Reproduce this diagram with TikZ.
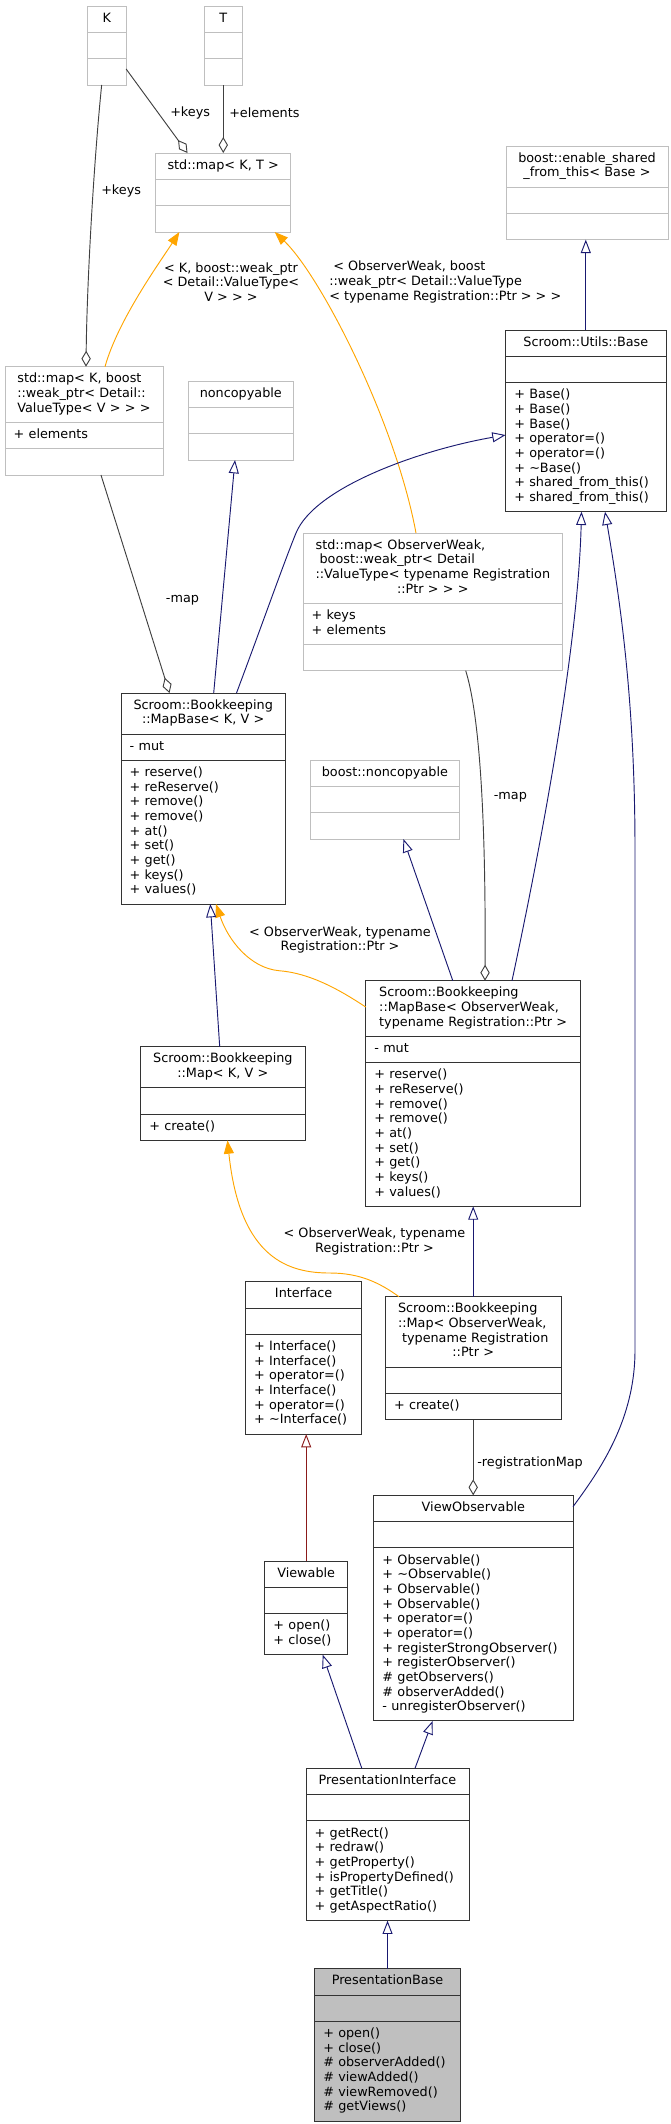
\documentclass[tikz,border=0pt]{standalone}
\usepackage{fontspec}
\setmainfont{DejaVu Sans}
\usepackage{tikz}
\usetikzlibrary{arrows.meta, positioning, calc, shapes.multipart}
\definecolor{inhblue}{RGB}{25,25,112}
\definecolor{privred}{RGB}{139,26,26}
\definecolor{tmplorange}{RGB}{255,165,0}
\definecolor{usegray}{RGB}{64,64,64}
\newcommand{\ctitle}[1]{\hfill\begin{tabular}{@{}l@{}}#1\end{tabular}\hfill\null}
\newcommand{\clast}[1]{\multicolumn{1}{@{}c@{}}{#1}}
\newcommand{\mlist}[1]{\begin{tabular}{@{}l@{}}#1\end{tabular}}
\newcommand{\tld}{\textasciitilde}

\begin{document}
\begin{tikzpicture}[
  x=0.75pt, y=-0.75pt,
  cls/.style  = {rectangle split, rectangle split parts=3, draw=black!80,
                 line width=0.75pt, anchor=north west, text width=#1,
                 inner xsep=6.5pt, inner ysep=4pt, outer sep=0pt,
                 font=\fontsize{9.6}{11}\selectfont},
  ext/.style  = {cls=#1, draw=black!25},
  lab/.style  = {font=\fontsize{9.6}{11}\selectfont, inner sep=0pt},
  inh/.style  = {draw=inhblue, line width=0.7pt,
                 -{Triangle[open, length=10pt, width=7.5pt]}},
  priv/.style = {inh, draw=privred},
  tmpl/.style = {draw=tmplorange, line width=0.7pt,
                 -{Triangle[length=10pt, width=7.5pt]}},
  use/.style  = {draw=usegray, line width=0.7pt,
                 -{Diamond[open, length=12pt, width=7pt]}}
]
\useasboundingbox (0,0) rectangle (671,2124);

\node[ext=15.9pt] (k) at (87.6,6)
  {\ctitle{K}\nodepart{two}\strut\nodepart{three}\strut};
\node[ext=15.9pt] (t) at (204,6)
  {\ctitle{T}\nodepart{two}\strut\nodepart{three}\strut};
\node[ext=88.1pt] (mapkt) at (155.8,153)
  {\ctitle{std::map< K, T >}\nodepart{two}\strut\nodepart{three}\strut};
\node[ext=108.5pt] (enable) at (506,146)
  {\ctitle{boost::enable\_shared\\\clast{\_from\_this< Base >}}%
   \nodepart{two}\strut\nodepart{three}\strut};
\node[cls=107.3pt] (base) at (505.6,330)
  {\ctitle{Scroom::Utils::Base}\nodepart{two}\strut\nodepart{three}
   \mlist{+ Base()\\+ Base()\\+ Base()\\+ operator=()\\+ operator=()\\
          + \tld Base()\\+ shared\_from\_this()\\+ shared\_from\_this()}};
\node[ext=105.5pt] (mapkv) at (5,366.7)
  {\ctitle{std::map< K, boost\\::weak\_ptr< Detail::\\\clast{ValueType< V > > >}}%
   \nodepart{two}\mlist{+ elements}\nodepart{three}\strut};
\node[ext=66.2pt] (noncopy) at (188,381)
  {\ctitle{noncopyable}\nodepart{two}\strut\nodepart{three}\strut};
\node[ext=181.8pt] (mapow) at (303,533)
  {\ctitle{std::map< ObserverWeak,\\\hspace*{3pt}boost::weak\_ptr< Detail\\
           ::ValueType< typename Registration\\\clast{::Ptr > > >}}%
   \nodepart{two}\mlist{+ keys\\+ elements}\nodepart{three}\strut};
\node[cls=110.3pt] (mbkv) at (121,693)
  {\ctitle{Scroom::Bookkeeping\\\clast{::MapBase< K, V >}}%
   \nodepart{two}\mlist{- mut}\nodepart{three}
   \mlist{+ reserve()\\+ reReserve()\\+ remove()\\+ remove()\\+ at()\\
          + set()\\+ get()\\+ keys()\\+ values()}};
\node[ext=99.3pt] (bnoncopy) at (310,760)
  {\ctitle{boost::noncopyable}\nodepart{two}\strut\nodepart{three}\strut};
\node[cls=148.25pt] (mbow) at (365.7,980.7)
  {\ctitle{Scroom::Bookkeeping\\::MapBase< ObserverWeak,\\
           \clast{typename Registration::Ptr >}}%
   \nodepart{two}\mlist{- mut}\nodepart{three}
   \mlist{+ reserve()\\+ reReserve()\\+ remove()\\+ remove()\\+ at()\\
          + set()\\+ get()\\+ keys()\\+ values()}};
\node[cls=110.15pt] (mapkv2) at (140.8,1046.7)
  {\ctitle{Scroom::Bookkeeping\\\clast{::Map< K, V >}}%
   \nodepart{two}\strut\nodepart{three}\mlist{+ create()}};
\node[cls=74.2pt] (iface) at (245.5,1281.7)
  {\ctitle{Interface}\nodepart{two}\strut\nodepart{three}
   \mlist{+ Interface()\\+ Interface()\\+ operator=()\\+ Interface()\\
          + operator=()\\+ \tld Interface()}};
\node[cls=118.7pt] (mapow2) at (385.4,1296.7)
  {\ctitle{Scroom::Bookkeeping\\::Map< ObserverWeak,\\
           \hspace*{3pt}typename Registration\\\clast{::Ptr >}}%
   \nodepart{two}\strut\nodepart{three}\mlist{+ create()}};
\node[cls=136.4pt] (viewobs) at (373.8,1495.3)
  {\ctitle{ViewObservable}\nodepart{two}\strut\nodepart{three}
   \mlist{+ Observable()\\+ \tld Observable()\\+ Observable()\\+ Observable()\\
          + operator=()\\+ operator=()\\+ registerStrongObserver()\\
          + registerObserver()\\\# getObservers()\\\# observerAdded()\\
          - unregisterObserver()}};
\node[cls=49.1pt] (viewable) at (264.8,1561)
  {\ctitle{Viewable}\nodepart{two}\strut\nodepart{three}
   \mlist{+ open()\\+ close()}};
\node[cls=109.25pt] (presint) at (306,1768.3)
  {\ctitle{PresentationInterface}\nodepart{two}\strut\nodepart{three}
   \mlist{+ getRect()\\+ redraw()\\+ getProperty()\\+ isPropertyDefined()\\
          + getTitle()\\+ getAspectRatio()}};
\node[cls=96.4pt, fill=black!25] (presbase) at (314.6,1968.7)
  {\ctitle{PresentationBase}\nodepart{two}\strut\nodepart{three}
   \mlist{+ open()\\+ close()\\\# observerAdded()\\\# viewAdded()\\
          \# viewRemoved()\\\# getViews()}};

% edges
\draw[use] ($(k.north east)+(0,63)$) -- ($(mapkt.north west)+(31.7,0)$);
\draw[use] (t.south) -- (t.south |- mapkt.north);
\draw[use] ($(k.south)+(-5.2,0)$) .. controls (94,160) and (87,280)
  .. ($(mapkv.north west)+(81,0)$);
\draw[tmpl] ($(mapkv.north west)+(100,0)$) .. controls (118,320) and (160,262)
  .. ($(mapkt.south west)+(23.6,0)$);
\draw[tmpl] ($(mapow.north west)+(113,0)$) .. controls (395,420) and (320,275)
  .. ($(mapkt.south west)+(118.9,0)$);
\draw[inh] (base.north) -- (base.north |- enable.south);
\draw[inh] ($(mbkv.north west)+(92.7,0)$) -- ($(noncopy.south west)+(47,0)$);
\draw[inh] ($(mbkv.north west)+(115.5,0)$) .. controls (262,625) and (283,565)
  .. (296,533) .. controls (315,487) and (420,450) .. ($(base.north west)+(0,105)$);
\draw[use] ($(mapkv.south west)+(96,0)$) -- ($(mbkv.north west)+(48.5,0)$);
\draw[use] ($(mapow.south west)+(162.7,0)$) .. controls (478,710) and (486,800)
  .. ($(mbow.north west)+(119.3,0)$);
\draw[inh] ($(mbow.north west)+(87.1,0)$) -- ($(bnoncopy.south west)+(93.4,0)$);
\draw[inh] ($(mbow.north west)+(146.3,0)$) .. controls (540,850) and (578,650)
  .. ($(base.south west)+(75.9,0)$);
\draw[inh] ($(viewobs.north east)+(0,11.4)$) .. controls (600,1470) and (635,1420)
  .. (635,1350) -- (635,850) .. controls (635,700) and (620,600)
  .. ($(base.south west)+(99.4,0)$);
\draw[tmpl] ($(mbow.north west)+(0,26.3)$) .. controls (340,990) and (310,973)
  .. (279,970.7) .. controls (250,968) and (228,940) .. ($(mbkv.south west)+(95,0)$);
\draw[inh] ($(mapkv2.north west)+(78.9,0)$) -- ($(mbkv.south west)+(89.3,0)$);
\draw[tmpl] ($(mapow2.north west)+(13.6,0)$) .. controls (380,1283) and (360,1273)
  .. (330,1273) .. controls (290,1273) and (240,1260) .. ($(mapkv2.south west)+(86.7,0)$);
\draw[inh] (mapow2.north) -- (mapow2.north |- mbow.south);
\draw[use] (mapow2.south) -- (mapow2.south |- viewobs.north);
\draw[priv] (viewable.north) -- (viewable.north |- iface.south);
\draw[inh] ($(presint.north west)+(55.8,0)$) -- ($(viewable.south west)+(57.9,0)$);
\draw[inh] ($(presint.north west)+(109,0)$) -- ($(viewobs.south west)+(58.8,0)$);
\draw[inh] (presbase.north) -- (presbase.north |- presint.south);

% labels
\node[lab, anchor=west] (lkeysa) at (170,113) {+keys};
\node[lab, anchor=west] (lelems) at (229,113) {+elements};
\node[lab, anchor=west] (lkeysb) at (101,190.7) {+keys};
\node[lab, align=center] (ltmpla) at (231,282)
  {< K, boost::weak\_ptr\\< Detail::ValueType<\\V > > >};
\node[lab, align=left, anchor=west] (ltmplb) at (329,282)
  {\hspace*{3pt}< ObserverWeak, boost\\::weak\_ptr< Detail::ValueType\\
   < typename Registration::Ptr > > >};
\node[lab, anchor=west] (lmapa) at (165.7,600.7) {-map};
\node[lab, anchor=west] (lmapb) at (493.6,797) {-map};
\node[lab, align=center] (ltmplc) at (340,940)
  {< ObserverWeak, typename\\Registration::Ptr >};
\node[lab, align=center] (ltmpld) at (374.5,1241.5)
  {< ObserverWeak, typename\\Registration::Ptr >};
\node[lab, anchor=west] (lregmap) at (477,1462.7) {-registrationMap};
\end{tikzpicture}
\end{document}
